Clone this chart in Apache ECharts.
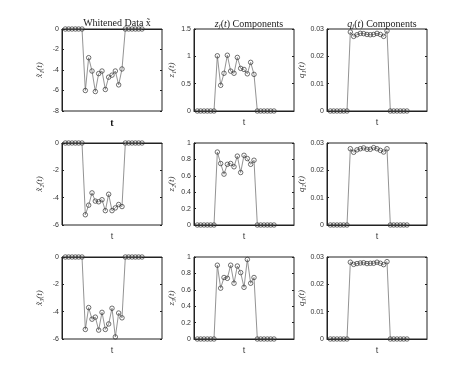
<!DOCTYPE html>
<html>
<head>
<meta charset="utf-8">
<script src="https://cdn.jsdelivr.net/npm/echarts@6/dist/echarts.min.js"></script>
<style>
  html, body { margin: 0; padding: 0; background: #fff; }
  #main { width: 471px; height: 382px; }
</style>
</head>
<body>
<div id="main"></div>
<script>
// time index t
var tIdx = [1, 2, 3, 4, 5, 6, 7, 8, 9, 10, 11, 12, 13, 14, 15, 16, 17, 18, 19, 20, 21, 22, 23, 24];

// whitened data x~
var x1 = [0, 0, 0, 0, 0, 0, -6.0, -2.8, -4.1, -6.1, -4.35, -4.1, -5.9, -4.7, -4.5, -4.1, -5.45, -3.9, 0, 0, 0, 0, 0, 0];
var x2 = [0, 0, 0, 0, 0, 0, -5.25, -4.55, -3.65, -4.25, -4.3, -4.15, -4.95, -3.75, -4.95, -4.75, -4.5, -4.65, 0, 0, 0, 0, 0, 0];
var x3 = [0, 0, 0, 0, 0, 0, -5.3, -3.7, -4.55, -4.4, -5.35, -4.05, -5.3, -4.9, -3.75, -5.85, -4.1, -4.45, 0, 0, 0, 0, 0, 0];

// z_j(t) components
var z1 = [0, 0, 0, 0, 0, 0, 1.01, 0.47, 0.69, 1.02, 0.73, 0.69, 0.98, 0.78, 0.76, 0.68, 0.89, 0.67, 0, 0, 0, 0, 0, 0];
var z2 = [0, 0, 0, 0, 0, 0, 0.89, 0.75, 0.62, 0.74, 0.75, 0.71, 0.84, 0.64, 0.85, 0.81, 0.74, 0.79, 0, 0, 0, 0, 0, 0];
var z3 = [0, 0, 0, 0, 0, 0, 0.9, 0.62, 0.75, 0.74, 0.9, 0.68, 0.89, 0.81, 0.63, 0.97, 0.68, 0.75, 0, 0, 0, 0, 0, 0];

// q_j(t) components
var q1 = [0, 0, 0, 0, 0, 0, 0.0289, 0.0273, 0.0279, 0.0284, 0.0283, 0.028, 0.0279, 0.028, 0.0284, 0.028, 0.0273, 0.0293, 0, 0, 0, 0, 0, 0];
var q2 = [0, 0, 0, 0, 0, 0, 0.0279, 0.0266, 0.0275, 0.0279, 0.0282, 0.0277, 0.0277, 0.0283, 0.0279, 0.0273, 0.0267, 0.0279, 0, 0, 0, 0, 0, 0];
var q3 = [0, 0, 0, 0, 0, 0, 0.0281, 0.0273, 0.0276, 0.0278, 0.0279, 0.0276, 0.0277, 0.0277, 0.0281, 0.0277, 0.0272, 0.0283, 0, 0, 0, 0, 0, 0];

var yNames = ['x̃₁(t)', 'z₁(t)', 'q₁(t)', 'x̃₂(t)', 'z₂(t)', 'q₂(t)', 'x̃₃(t)', 'z₃(t)', 'q₃(t)'];
var yMins = [-8, 0, 0, -6, 0, 0, -6, 0, 0];
var yMaxs = [0, 1.5, 0.03, 0, 1, 0.03, 0, 1, 0.03];
var yInts = [2, 0.5, 0.01, 2, 0.2, 0.01, 2, 0.2, 0.01];
var allData = [x1, z1, q1, x2, z2, q2, x3, z3, q3];

var colLeft = [62, 194, 327];
var rowTop = [29, 143, 257];
var serif = '"Liberation Serif", "DejaVu Serif", serif';
var sans = '"Liberation Sans", Arial, sans-serif';

var grids = [], xAxes = [], yAxes = [], series = [];
for (var i = 0; i < 9; i++) {
  var r = Math.floor(i / 3), c = i % 3;
  grids.push({
    left: colLeft[c], top: rowTop[r], width: 100, height: 82,
    show: true, borderColor: '#222', borderWidth: 1, backgroundColor: '#fff'
  });
  xAxes.push({
    type: 'value', gridIndex: i, min: 0, max: 30,
    name: 't', nameLocation: 'middle', nameGap: 7,
    nameTextStyle: (i === 0)
      ? { fontFamily: serif, fontSize: 10, fontWeight: 'bold', color: '#111' }
      : { fontFamily: sans, fontSize: 9, color: '#444' },
    axisLine: { show: true, lineStyle: { color: '#222', width: 1 } },
    axisTick: { show: false }, axisLabel: { show: false }, splitLine: { show: false }
  });
  yAxes.push({
    type: 'value', gridIndex: i, min: yMins[i], max: yMaxs[i], interval: yInts[i],
    name: yNames[i], nameLocation: 'middle', nameGap: 18, nameRotate: 90,
    nameTextStyle: { fontFamily: serif, fontStyle: 'italic', fontSize: 9, color: '#333' },
    axisLine: { show: true, lineStyle: { color: '#222', width: 1 } },
    axisTick: { show: true, inside: true, length: 2, lineStyle: { color: '#222' } },
    axisLabel: { fontFamily: sans, fontSize: 7, color: '#333', margin: 3 },
    splitLine: { show: false }
  });
  yAxes.push({
    type: 'value', gridIndex: i, position: 'right', min: yMins[i], max: yMaxs[i], interval: yInts[i],
    axisLine: { show: false },
    axisTick: { show: true, inside: true, length: 2, lineStyle: { color: '#222' } },
    axisLabel: { show: false }, splitLine: { show: false }
  });
  series.push({
    type: 'line', xAxisIndex: i, yAxisIndex: i * 2,
    data: tIdx.map(function (t, k) { return [t, allData[i][k]]; }),
    symbol: 'circle', symbolSize: 4.5,
    lineStyle: { color: '#777', width: 0.8 },
    itemStyle: { color: 'rgba(255,255,255,0)', borderColor: '#333', borderWidth: 0.7 },
    emphasis: { disabled: true },
    animation: false
  });
}

var richTitle = {
  i: { fontFamily: serif, fontStyle: 'italic', fontWeight: 'normal', fontSize: 10, color: '#222' },
  s: { fontFamily: serif, fontStyle: 'italic', fontWeight: 'normal', fontSize: 7, color: '#222', padding: [5, 0, 0, 0] },
  n: { fontFamily: serif, fontWeight: 'normal', fontSize: 10, color: '#222' }
};

var chart = echarts.init(document.getElementById('main'), null, { renderer: 'canvas' });
chart.setOption({
  backgroundColor: '#fff',
  animation: false,
  title: [
    { text: 'Whitened Data x̃', left: 112, top: 13, textAlign: 'center',
      textStyle: { fontFamily: serif, fontSize: 10, fontWeight: 'normal', color: '#222' } },
    { text: '{i|z}{s|j}{n|(}{i|t}{n|) Components}', left: 244, top: 13, textAlign: 'center',
      textStyle: { fontWeight: 'normal', rich: richTitle } },
    { text: '{i|q}{s|j}{n|(}{i|t}{n|) Components}', left: 377, top: 13, textAlign: 'center',
      textStyle: { fontWeight: 'normal', rich: richTitle } }
  ],
  grid: grids,
  xAxis: xAxes,
  yAxis: yAxes,
  series: series
});
</script>
</body>
</html>
